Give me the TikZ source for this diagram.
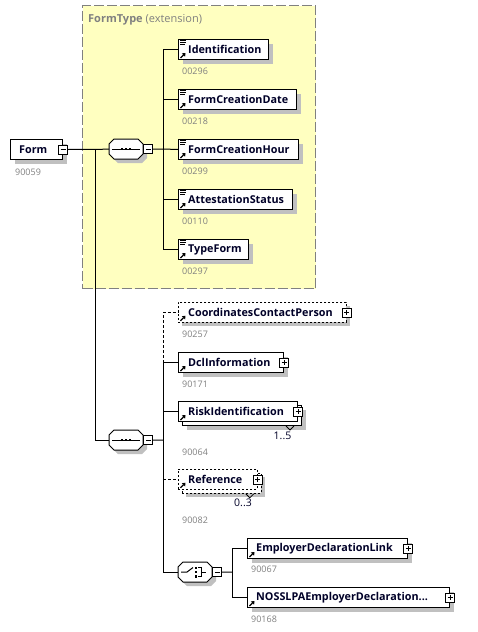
\documentclass[tikz,border=0pt]{standalone}
\usepackage{fontspec}
\setmainfont{Open Sans}
\usetikzlibrary{shadows}
\definecolor{yel}{RGB}{255,255,192}
\definecolor{shd}{RGB}{192,192,192}
\definecolor{ngray}{RGB}{128,128,128}
\definecolor{txt}{RGB}{0,0,40}
\tikzset{
 elem/.style={draw, fill=white, line width=1pt, minimum height=20pt, inner sep=0pt, anchor=north west,
   general shadow={fill=shd, draw=none, shadow xshift=4pt, shadow yshift=-4pt}},
 elemns/.style={draw, fill=white, line width=1pt, minimum height=20pt, inner sep=0pt, anchor=north west},
 optbox/.style={dash pattern=on 2pt off 2pt, line width=0.8pt},
 lbl/.style={font=\fontsize{10.8}{13}\selectfont\bfseries, text=txt, inner sep=0pt, anchor=west},
 num/.style={font=\fontsize{9}{10}\selectfont, text=ngray, inner sep=0pt, anchor=west},
 mult/.style={font=\fontsize{10.5}{12}\selectfont, text=txt, inner sep=0pt},
 conn/.style={line width=1pt},
 optconn/.style={line width=1pt, dash pattern=on 3pt off 2pt},
 pmbox/.style={draw, fill=white, line width=0.8pt, minimum size=9pt, inner sep=0pt},
 minusbox/.style={pmbox, path picture={\draw[line width=0.8pt] ([xshift=2pt]path picture bounding box.west) -- ([xshift=-2pt]path picture bounding box.east);}},
 plusbox/.style={pmbox, path picture={\draw[line width=0.8pt] ([xshift=2pt]path picture bounding box.west) -- ([xshift=-2pt]path picture bounding box.east) ([yshift=-2pt]path picture bounding box.north) -- ([yshift=2pt]path picture bounding box.south);}},
 compbox/.style={minimum width=34pt, minimum height=20pt, inner sep=0pt, anchor=north west},
 octa/.pic={
   \fill[shd] (9,4) -- (33,4) -- (38,9) -- (38,19) -- (33,24) -- (9,24) -- (4,19) -- (4,9) -- cycle;
   \draw[fill=white, line width=1pt] (5,0) -- (29,0) -- (34,5) -- (34,15) -- (29,20) -- (5,20) -- (0,15) -- (0,5) -- cycle;
 },
 seqicon/.pic={
   \draw[line width=1pt] (3,10) -- (31,10);
   \fill (11.75,8.75) rectangle +(2.5,2.5);
   \fill (15.75,8.75) rectangle +(2.5,2.5);
   \fill (19.75,8.75) rectangle +(2.5,2.5);
 },
 choiceicon/.pic={
   \draw[line width=1pt] (3,10) -- (9,10) -- (15,5.5);
   \fill (16.5,4.5) rectangle +(2.5,2.5);
   \fill (16.5,8.75) rectangle +(2.5,2.5);
   \fill (16.5,13) rectangle +(2.5,2.5);
   \draw[line width=1pt] (20,5.75) -- (23,5.75) -- (23,14.25) -- (20,14.25) (23,10) -- (28,10);
 },
 docicon/.pic={
   \draw[line width=0.8pt] (2,1.5) -- (8,1.5) (2,3.5) -- (8,3.5) (2,5.5) -- (7,5.5);
 },
 refarr/.pic={
   \draw[line width=1.2pt] (2.5,-2) -- (5.5,-5);
   \fill (7.5,-7) -- (3.8,-6.6) -- (7.1,-3.3) -- cycle;
 }
}
\begin{document}
\begin{tikzpicture}[x=1pt,y=-1pt]
\useasboundingbox (0,0) rectangle (477,632);
\fill[white] (0,0) rectangle (477,632);

% extension group box
\node[draw=ngray, fill=yel, line width=1pt, dash pattern=on 10pt off 3pt, minimum width=233pt, minimum height=283pt, inner sep=0pt, anchor=north west] (ftype) at (82,5) {};
\node[font=\fontsize{11}{13}\selectfont, text=ngray, inner sep=0pt, anchor=west] (ftypeL) at (88,20) {\textbf{FormType} (extension)};

% root
\node[elem, minimum width=52pt] (form) at (10,139) {};
\node[lbl] (formL) at ([xshift=9pt]form.west) {Form};
\node[minusbox] (formpm) at (form.east) {};
\node[num] at (15,172) {90059};

% sequence 1
\pic at (109,139) {octa};
\pic at (109,139) {seqicon};
\node[compbox] (seq1) at (109,139) {};
\node[minusbox, anchor=west] (seq1pm) at (seq1.east) {};

% sequence 2
\pic at (109,430) {octa};
\pic at (109,430) {seqicon};
\node[compbox] (seq2) at (109,430) {};
\node[minusbox, anchor=west] (seq2pm) at (seq2.east) {};

% choice
\pic at (178,562) {octa};
\pic at (178,562) {choiceicon};
\node[compbox] (ch) at (178,562) {};
\node[minusbox, anchor=west] (chpm) at (ch.east) {};

% FormType children
\node[elem, minimum width=90pt] (ident) at (178,39) {};
\node[lbl] at ([xshift=10pt]ident.west) {Identification};
\pic at (ident.north west) {docicon}; \pic at (ident.south west) {refarr};
\node[num] at (182,71) {00296};

\node[elem, minimum width=118pt] (fcd) at (178,89) {};
\node[lbl] at ([xshift=10pt]fcd.west) {FormCreationDate};
\pic at (fcd.north west) {docicon}; \pic at (fcd.south west) {refarr};
\node[num] at (182,121) {00218};

\node[elem, minimum width=120pt] (fch) at (178,139) {};
\node[lbl] at ([xshift=10pt]fch.west) {FormCreationHour};
\pic at (fch.north west) {docicon}; \pic at (fch.south west) {refarr};
\node[num] at (182,171) {00299};

\node[elem, minimum width=114pt] (att) at (178,189) {};
\node[lbl] at ([xshift=10pt]att.west) {AttestationStatus};
\pic at (att.north west) {docicon}; \pic at (att.south west) {refarr};
\node[num] at (182,221) {00110};

\node[elem, minimum width=70pt] (tf) at (178,239) {};
\node[lbl] at ([xshift=10pt]tf.west) {TypeForm};
\pic at (tf.north west) {docicon}; \pic at (tf.south west) {refarr};
\node[num] at (182,271) {00297};

% Form children
\node[elem, optbox, minimum width=168pt] (ccp) at (178,302) {};
\node[lbl] at ([xshift=10pt]ccp.west) {CoordinatesContactPerson};
\pic at (ccp.south west) {refarr};
\node[plusbox] (ccppm) at (ccp.east) {};
\node[num] at (182,334) {90257};

\node[elem, minimum width=105pt] (dcl) at (178,352) {};
\node[lbl] at ([xshift=10pt]dcl.west) {DclInformation};
\pic at (dcl.south west) {refarr};
\node[plusbox] (dclpm) at (dcl.east) {};
\node[num] at (182,384) {90171};

\node[elem, minimum width=119pt] (riskb) at (182,405) {};
\node[elemns, minimum width=119pt] (risk) at (178,401) {};
\node[lbl] at ([xshift=10pt]risk.west) {RiskIdentification};
\pic at (risk.south west) {refarr};
\node[plusbox] (riskpm) at (risk.east) {};
\draw[line width=0.8pt] ([xshift=-16pt]riskb.south east) -- ([xshift=-12pt,yshift=-4pt]riskb.south east) -- ([xshift=-8pt]riskb.south east);
\node[mult] at (282.5,436) {1..5};
\node[num] at (182,452) {90064};

\node[elem, optbox, minimum width=79pt] (refb) at (182,473) {};
\node[elemns, optbox, minimum width=79pt] (ref) at (178,469) {};
\node[lbl] at ([xshift=10pt]ref.west) {Reference};
\pic at (ref.south west) {refarr};
\node[plusbox] (refpm) at (ref.east) {};
\draw[line width=0.8pt] ([xshift=-16pt]refb.south east) -- ([xshift=-12pt,yshift=-4pt]refb.south east) -- ([xshift=-8pt]refb.south east);
\node[mult] at (243,503) {0..3};
\node[num] at (182,520) {90082};

% choice children
\node[elem, minimum width=160pt] (edl) at (247,538) {};
\node[lbl] at ([xshift=9pt]edl.west) {EmployerDeclarationLink};
\pic at (edl.south west) {refarr};
\node[plusbox] (edlpm) at (edl.east) {};
\node[num] at (251,569) {90067};

\node[elem, minimum width=202pt] (nos) at (247,587) {};
\node[lbl] at ([xshift=9pt]nos.west) {NOSSLPAEmployerDeclaration...};
\pic at (nos.south west) {refarr};
\node[plusbox] (nospm) at (nos.east) {};
\node[num] at (251,619) {90168};

% connectors
\coordinate (j1) at (95,149);
\coordinate (b1) at (163,149);
\coordinate (b2) at (163,440);
\coordinate (b3) at (232,572);
\draw[conn] (formpm.east) -- (seq1.west);
\draw[conn] (j1) |- (seq2.west);
\draw[conn] (seq1pm.east) -- (b1);
\draw[conn] (b1) |- (ident.west);
\draw[conn] (b1) |- (fcd.west);
\draw[conn] (b1) -- (fch.west);
\draw[conn] (b1) |- (att.west);
\draw[conn] (b1) |- (tf.west);
\draw[conn] (seq2pm.east) -- (b2);
\draw[conn] (b2) |- (dcl.west);
\draw[optconn] (dcl.west -| b2) |- (ccp.west);
\draw[conn] (b2) |- (risk.west);
\draw[optconn] (ref.west -| b2) -- (ref.west);
\draw[conn] (b2) |- (ch.west);
\draw[conn] (chpm.east) -- (b3);
\draw[conn] (b3) |- (edl.west);
\draw[conn] (b3) |- (nos.west);
\end{tikzpicture}
\end{document}
